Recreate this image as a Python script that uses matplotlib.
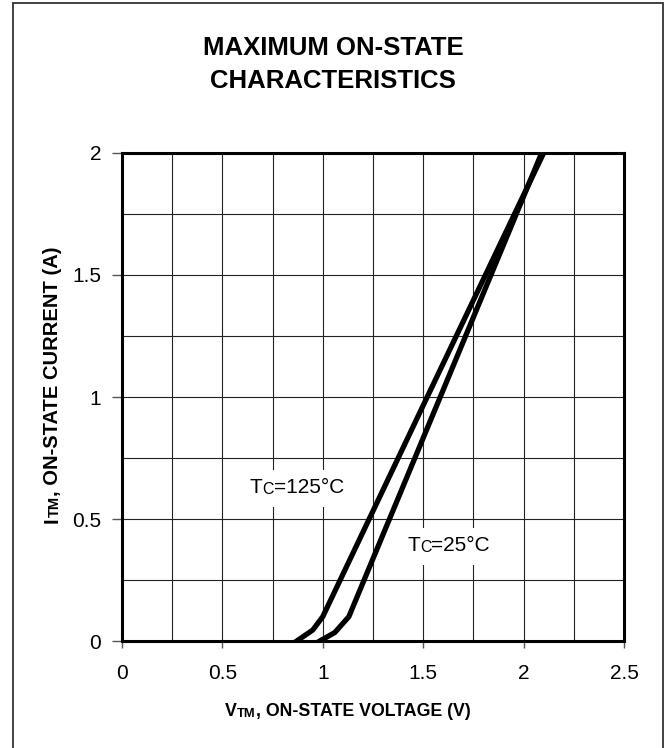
import numpy as np
import matplotlib
matplotlib.use("Agg")
import matplotlib.pyplot as plt
from matplotlib.patches import Rectangle

plt.rcParams['font.family'] = ['Liberation Sans', 'DejaVu Sans']

# on-state curves
v_125 = [0.87, 0.95, 1.00, 1.52, 2.10]
i_125 = [0.00, 0.045, 0.10, 1.00, 2.00]
v_25 = [0.985, 1.06, 1.13, 1.585, 2.09]
i_25 = [0.00, 0.035, 0.10, 1.00, 2.00]

x_ticks = [0, 0.5, 1, 1.5, 2, 2.5]
x_tick_labels = ["0", "0.5", "1", "1.5", "2", "2.5"]
y_ticks = [0, 0.5, 1, 1.5, 2]
y_tick_labels = ["0", "0.5", "1", "1.5", "2"]

fig = plt.figure(figsize=(6.68, 7.48), dpi=100)
ax = fig.add_axes([0.1826, 0.143, 0.7515, 0.6525])

ax.plot(v_125, i_125, color="black", lw=3.8, solid_joinstyle="round", zorder=4)
ax.plot(v_25, i_25, color="black", lw=3.8, solid_joinstyle="round", zorder=4)

ax.set_xlim(0, 2.5)
ax.set_ylim(0, 2)
ax.set_xticks(x_ticks)
ax.set_xticklabels(x_tick_labels)
ax.set_yticks(y_ticks)
ax.set_yticklabels(y_tick_labels)
ax.set_xticks(np.arange(0, 2.51, 0.25), minor=True)
ax.set_yticks(np.arange(0, 2.01, 0.25), minor=True)
ax.tick_params(which="minor", length=0)
ax.tick_params(axis="x", which="major", length=5, width=1, color="#555555",
               pad=11.5, labelsize=15)
ax.tick_params(axis="y", which="major", length=7, width=1, color="#555555",
               pad=8, labelsize=15)
ax.grid(which="both", color="#222222", lw=0.8)
ax.set_axisbelow(True)
for s in ax.spines.values():
    s.set_linewidth(2.2)
    s.set_color("black")


def pieces(parts, x, y, rot=0, coords="figure fraction", bold=False):
    # chain text pieces so small caps sit on the same baseline
    w = "bold" if bold else "normal"
    if rot == 0:
        t = ax.annotate(parts[0][0], (x, y), xycoords=coords, ha="left",
                        va="baseline", fontsize=parts[0][1], weight=w, zorder=5)
    else:
        t = ax.annotate(parts[0][0], (x, y), xycoords=coords, ha="left",
                        va="bottom", fontsize=parts[0][1], weight=w,
                        rotation=90, zorder=5)
    out = [t]
    for txt, size in parts[1:]:
        if rot == 0:
            t = ax.annotate(txt, (1, 0), xycoords=t, ha="left", va="bottom",
                            fontsize=size, weight=w, zorder=5)
        else:
            t = ax.annotate(txt, (1, 1), xycoords=t, ha="right", va="bottom",
                            fontsize=size, weight=w, rotation=90, zorder=5)
        out.append(t)
    for a in out:
        a.set_annotation_clip(False)
    return out


# axis labels
pieces([("V", 12.8), ("TM", 9.3), (", ON-STATE VOLTAGE (V)", 12.8)],
       225 / 668, 1 - 716 / 748, bold=True)
pieces([("I", 14.5), ("TM", 10.5), (", ON-STATE CURRENT (A)", 14.5)],
       43 / 668, 1 - 523 / 748, rot=90, bold=True)

# temperature labels
lab125 = pieces([("T", 15), ("C", 11.5), ("=125°C", 15)], 0.637, 0.607,
                coords="data")
lab25 = pieces([("T", 15), ("C", 11.5), ("=25°C", 15)], 1.42, 0.369,
               coords="data")

fig.text(0.4985, 1 - 64.5 / 748, "MAXIMUM ON-STATE\nCHARACTERISTICS",
         ha="center", va="center", fontsize=18.5, weight="bold",
         linespacing=1.48)

# white boxes behind the temperature labels
fig.canvas.draw()
r = fig.canvas.get_renderer()
inv = fig.transFigure.inverted()
for lab in (lab125, lab25):
    bb = [a.get_window_extent(r) for a in lab]
    x0 = min(b.x0 for b in bb) - 6
    x1 = max(b.x1 for b in bb) + 6
    y0 = min(b.y0 for b in bb) - 10
    y1 = max(b.y1 for b in bb) + 8
    (fx0, fy0), (fx1, fy1) = inv.transform([(x0, y0), (x1, y1)])
    ax.add_patch(Rectangle((fx0, fy0), fx1 - fx0, fy1 - fy0,
                           transform=fig.transFigure, facecolor="white",
                           edgecolor="none", zorder=2))

# border round the whole picture
fig.patches.append(Rectangle((13 / 668, -0.02), 650 / 668, 1.016,
                             transform=fig.transFigure, fill=False,
                             edgecolor="#333333", lw=1.3))

plt.savefig("out.png", dpi=100)
